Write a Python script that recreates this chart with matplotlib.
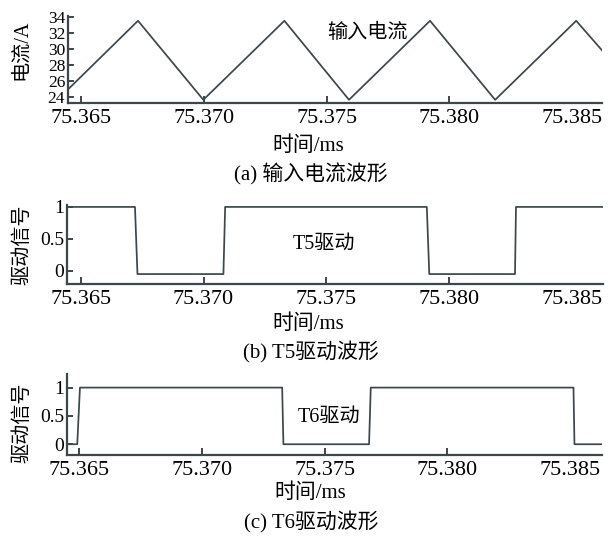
import matplotlib
matplotlib.use("Agg")
import matplotlib.pyplot as plt

plt.rcParams['font.family'] = ['Liberation Serif', 'Noto Sans CJK SC']

INK = '#3b474c'

# input current (triangle wave), breakpoints in ms / A
t_cur = [75.36447, 75.36732, 75.36998, 75.37328, 75.37591,
         75.37921, 75.38186, 75.38516, 75.38621]
i_cur = [24.9, 33.5, 23.6, 33.5, 23.6, 33.5, 23.6, 33.5, 29.8]

# T5 gate drive
t_t5 = [75.36443, 75.36721, 75.36731, 75.37081, 75.37088,
        75.37909, 75.37919, 75.38268, 75.38272, 75.38625]
s_t5 = [1, 1, -0.05, -0.05, 1, 1, -0.05, -0.05, 1, 1]

# T6 gate drive
t_t6 = [75.36449, 75.36492, 75.36503, 75.37327, 75.37332,
        75.37681, 75.37688, 75.38514, 75.38518, 75.38629]
s_t6 = [0, 0, 1, 1, 0, 0, 1, 1, 0, 0]

x_ticks = [75.365, 75.370, 75.375, 75.380, 75.385]
x_labels = ['75.365', '75.370', '75.375', '75.380', '75.385']

W, H = 608, 537
fig = plt.figure(figsize=(W / 100, H / 100), dpi=100)


def px_axes(left, top, right, bottom):
    return fig.add_axes([left / W, 1 - bottom / H, (right - left) / W, (bottom - top) / H])


def ftext(x, y, s, **kw):
    fig.text(x / W, 1 - y / H, s, ha='center', va='center', **kw)


def style(ax, ytick_size):
    for side in ('top', 'right'):
        ax.spines[side].set_visible(False)
    for side in ('left', 'bottom'):
        ax.spines[side].set_color(INK)
        ax.spines[side].set_linewidth(1.6)
    ax.set_xticks(x_ticks, x_labels)
    ax.tick_params(axis='x', direction='in', length=5, width=1.4, color=INK,
                   labelsize=16, pad=4)
    ax.tick_params(axis='y', direction='in', length=4, width=1.4, color=INK,
                   labelsize=ytick_size, pad=2)
    ax.xaxis.get_major_ticks()[-1].tick1line.set_visible(False)


# (a) input current
ax1 = px_axes(68, 16, 602, 103)
ax1.plot(t_cur, i_cur, color=INK, lw=1.25)
ax1.set_xlim(75.36447, 75.38621)
ax1.set_ylim(23.2, 34.1)
ax1.set_yticks([24, 26, 28, 30, 32, 34])
style(ax1, 12.5)
ax1.text(0.56, 0.80, '输入电流', transform=ax1.transAxes, ha='center',
         va='center', fontsize=14.5)
ftext(22, 50, '电流/A', rotation=90, fontsize=14.5)
ftext(308, 146, '时间/ms', fontsize=15)
ftext(311, 174, '(a) 输入电流波形', fontsize=15)

# (b) T5 drive
ax2 = px_axes(66.7, 205, 602.7, 284.3)
ax2.plot(t_t5, s_t5, color=INK, lw=1.25)
ax2.set_xlim(75.36443, 75.38625)
ax2.set_ylim(-0.21, 1.03)
ax2.set_yticks([0, 0.5, 1], ['0', '0.5', '1'])
style(ax2, 14)
ax2.text(0.48, 0.50, 'T5驱动', transform=ax2.transAxes, ha='center',
         va='center', fontsize=14.5)
ftext(23, 245, '驱动信号', rotation=90, fontsize=14.5)
ftext(308, 324, '时间/ms', fontsize=15)
ftext(311, 352, '(b) T5驱动波形', fontsize=15)

# (c) T6 drive
ax3 = px_axes(66.7, 374, 601.7, 455)
ax3.plot(t_t6, s_t6, color=INK, lw=1.25)
ax3.set_xlim(75.36449, 75.38629)
ax3.set_ylim(-0.19, 1.24)
ax3.set_yticks([0, 0.5, 1], ['0', '0.5', '1'])
style(ax3, 14)
ax3.text(0.49, 0.47, 'T6驱动', transform=ax3.transAxes, ha='center',
         va='center', fontsize=14.5)
ftext(23, 423, '驱动信号', rotation=90, fontsize=14.5)
ftext(310, 493, '时间/ms', fontsize=15)
ftext(311, 522, '(c) T6驱动波形', fontsize=15)

fig.savefig('out.png', dpi=100)
